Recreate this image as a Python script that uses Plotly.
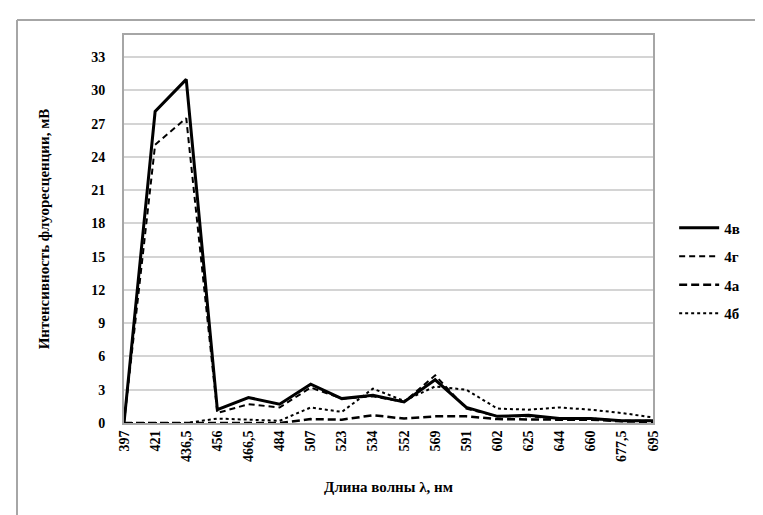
import plotly.graph_objects as go

wavelengths = ["397", "421", "436,5", "456", "466,5", "484", "507", "523", "534",
               "552", "569", "591", "602", "625", "644", "660", "677,5", "695"]
s_4v = [0, 28.1, 31.0, 1.2, 2.3, 1.7, 3.5, 2.2, 2.5, 1.9, 3.9, 1.4, 0.6, 0.7, 0.4, 0.4, 0.2, 0.2]
s_4g = [0, 25.1, 27.5, 0.9, 1.7, 1.4, 3.2, 2.2, 2.4, 1.9, 4.3, 1.3, 0.6, 0.6, 0.4, 0.4, 0.2, 0.2]
s_4a = [0, 0, 0, 0, 0, 0, 0.35, 0.3, 0.7, 0.4, 0.6, 0.6, 0.35, 0.3, 0.3, 0.3, 0.15, 0.1]
s_4b = [0, 0, 0, 0.4, 0.3, 0.2, 1.4, 1.0, 3.1, 2.0, 3.3, 3.0, 1.3, 1.2, 1.4, 1.2, 0.9, 0.5]

series = [
    ("4в", s_4v, dict(color="black", width=3, dash="solid")),
    ("4г", s_4g, dict(color="black", width=2, dash="6px,4px")),
    ("4а", s_4a, dict(color="black", width=2.5, dash="8px,4px")),
    ("4б", s_4b, dict(color="black", width=2, dash="dot")),
]

FONT = "Liberation Serif, Times New Roman, serif"
fig = go.Figure()
for i, (name, vals, line) in enumerate(series):
    fig.add_trace(go.Scatter(x=wavelengths, y=vals, name=name, mode="lines",
                             line=line, legendgroup=f"g{i}"))

fig.update_layout(
    width=763, height=515,
    margin=dict(l=116, r=118, t=27, b=100),
    paper_bgcolor="white", plot_bgcolor="white",
    font=dict(family=FONT, size=14, color="black", weight="bold"),
    showlegend=True,
    legend=dict(x=1.04, y=0.545, xanchor="left", yanchor="top",
                font=dict(family=FONT, size=15, weight="bold"),
                tracegroupgap=6, itemwidth=40, bgcolor="rgba(0,0,0,0)"),
    xaxis=dict(type="category", tickangle=-90, showgrid=False,
               tickfont=dict(family=FONT, size=14, weight="bold"),
               showline=True, linecolor="#a6a6a6", linewidth=2, mirror=True,
               ticks="", title=dict(text="Длина волны λ, нм", standoff=20,
                                    font=dict(family=FONT, size=15, weight="bold"))),
    yaxis=dict(range=[0, 35], tickvals=list(range(0, 34, 3)), showgrid=True,
               gridcolor="#d4d4d4", gridwidth=2, zeroline=False,
               tickfont=dict(family=FONT, size=14, weight="bold"),
               showline=True, linecolor="#a6a6a6", linewidth=2, mirror=True,
               ticks="", ticklabelstandoff=14,
               title=dict(text="Интенсивность флуоресценции, мВ", standoff=38,
                          font=dict(family=FONT, size=15, weight="bold"))),
    shapes=[
        dict(type="line", xref="paper", yref="paper",
             x0=(9 - 116) / 529, x1=(770 - 116) / 529,
             y0=(415 - 12) / 388, y1=(415 - 12) / 388,
             line=dict(color="#a6a6a6", width=2)),
        dict(type="line", xref="paper", yref="paper",
             x0=(9 - 116) / 529, x1=(9 - 116) / 529,
             y0=(415 - 12) / 388, y1=(415 - 520) / 388,
             line=dict(color="#a6a6a6", width=2)),
    ],
)

fig.write_html("out.html")
